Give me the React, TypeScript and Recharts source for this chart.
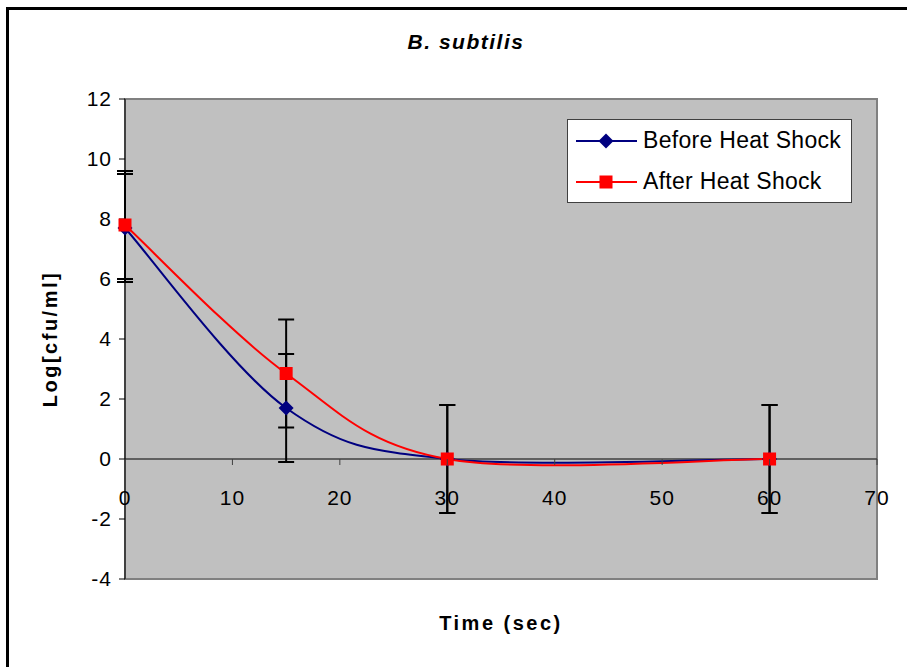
import { LineChart, Line, XAxis, YAxis, CartesianGrid, ErrorBar, Legend, ReferenceLine, ReferenceArea } from 'recharts';

// values
const TIMES = [0, 15, 30, 60];
const BEFORE = [7.7, 1.7, 0, 0];
const AFTER = [7.8, 2.85, 0, 0];
const BEFORE_ERR = [1.8, 1.8, 1.8, 1.8];
const AFTER_ERR = [1.8, 1.8, 1.8, 1.8];
const X_TICKS = [0, 10, 20, 30, 40, 50, 60, 70];
const Y_TICKS = [-4, -2, 0, 2, 4, 6, 8, 10, 12];
const Y_MIN = -4;
const Y_MAX = 12;
const SERIES_ORDER = ['before', 'after'];

const data = TIMES.map((t, i) => ({
  time: t,
  before: BEFORE[i],
  after: AFTER[i],
  beforeErr: BEFORE_ERR[i],
  afterErr: AFTER_ERR[i],
}));

const FONT = '"Liberation Sans", Arial, sans-serif';
const NAVY = '#000080';
const RED = '#FF0000';

// plot geometry (margins + axis sizes)
const PLOT_TOP = 99;
const PLOT_H = 480;
const ZERO_Y = PLOT_TOP + (PLOT_H * (Y_MAX - 0)) / (Y_MAX - Y_MIN);

// Excel-style smoothed line (bezier, 1/6 of neighbour spread)
const excelCurve = (context: any) => {
  let pts: [number, number][] = [];
  return {
    areaStart() {},
    areaEnd() {},
    lineStart() { pts = []; },
    point(x: number, y: number) { pts.push([+x, +y]); },
    lineEnd() {
      if (!pts.length) return;
      context.moveTo(pts[0][0], pts[0][1]);
      for (let i = 0; i < pts.length - 1; i++) {
        const p0 = pts[Math.max(i - 1, 0)];
        const p1 = pts[i];
        const p2 = pts[i + 1];
        const p3 = pts[Math.min(i + 2, pts.length - 1)];
        context.bezierCurveTo(
          p1[0] + (p2[0] - p0[0]) / 6, p1[1] + (p2[1] - p0[1]) / 6,
          p2[0] - (p3[0] - p1[0]) / 6, p2[1] - (p3[1] - p1[1]) / 6,
          p2[0], p2[1],
        );
      }
    },
  };
};

const diamondPath = (cx: number, cy: number, r: number) => `M${cx},${cy - r}L${cx + r},${cy}L${cx},${cy + r}L${cx - r},${cy}Z`;

const DiamondDot = (props: any) => (
  <path key={`bd-${props.index}`} d={diamondPath(props.cx, props.cy, 7.5)} fill={NAVY} />
);

const SquareDot = (props: any) => (
  <rect key={`ad-${props.index}`} x={props.cx - 6.5} y={props.cy - 6.5} width={13} height={13} fill={RED} />
);

const XTick = (props: any) => {
  const { x, payload } = props;
  return (
    <g>
      <line x1={x} x2={x} y1={ZERO_Y} y2={ZERO_Y + 6} stroke="#404040" />
      <text x={x} y={ZERO_Y + 38} textAnchor="middle" dominantBaseline="central" fontSize={21} fontFamily={FONT} fill="#000" letterSpacing={1}>
        {payload.value}
      </text>
    </g>
  );
};

const LegendBox = (props: any) => {
  const items = [...(props.payload || [])].sort(
    (a: any, b: any) => SERIES_ORDER.indexOf(a.dataKey) - SERIES_ORDER.indexOf(b.dataKey),
  );
  return (
    <div style={{ width: 283, height: 82, background: '#fff', border: '1px solid #404040', fontFamily: FONT, fontSize: 23, letterSpacing: 0.3, color: '#000' }}>
      {items.map((entry: any) => {
        const isBefore = entry.dataKey === 'before';
        const color = isBefore ? NAVY : RED;
        return (
          <div key={entry.value} style={{ display: 'flex', alignItems: 'center', height: 41 }}>
            <svg width={75} height={20} style={{ flex: 'none' }}>
              <line x1={8} x2={69} y1={10} y2={10} stroke={color} strokeWidth={2} />
              {isBefore
                ? <path d={diamondPath(38, 10, 7.5)} fill={NAVY} />
                : <rect x={31.5} y={3.5} width={13} height={13} fill={RED} />}
            </svg>
            <span>{entry.value}</span>
          </div>
        );
      })}
    </div>
  );
};

export default function App() {
  return (
    <div style={{ position: 'absolute', left: 0, top: 0, width: 907, height: 667, overflow: 'hidden', background: '#fff', fontFamily: FONT }}>
      {/* outer frame */}
      <div style={{ position: 'absolute', left: 6, top: 7, width: 1000, height: 1000, borderTop: '3px solid #000', borderLeft: '3px solid #000' }} />

      <div style={{ position: 'absolute', left: 366, top: 29, width: 200, lineHeight: '26px', textAlign: 'center', fontSize: 21, fontWeight: 'bold', fontStyle: 'italic', letterSpacing: 1.5 }}>
        B. subtilis
      </div>

      <LineChart width={907} height={667} data={data} margin={{ top: 99, right: 30, bottom: 58, left: 65 }} style={{ position: 'absolute', left: 0, top: 0 }}>
        <CartesianGrid horizontal={false} vertical={false} fill="#C0C0C0" />
        <ReferenceArea x1={0} x2={70} y1={Y_MIN} y2={Y_MAX} fill="none" stroke="#808080" strokeWidth={2} />
        <XAxis dataKey="time" type="number" domain={[0, 70]} ticks={X_TICKS} axisLine={false} tickLine={false} tick={<XTick />} height={30} interval={0} />
        <YAxis type="number" domain={[Y_MIN, Y_MAX]} ticks={Y_TICKS} width={60} interval={0}
          axisLine={{ stroke: '#000', strokeWidth: 1 }} tickLine={{ stroke: '#000' }} tickSize={6} tickMargin={7}
          tick={{ fontSize: 21, fill: '#000', fontFamily: FONT, letterSpacing: 1 }} />
        <ReferenceLine y={0} stroke="#404040" strokeWidth={1.5} />
        <Line dataKey="before" name="Before Heat Shock" type={excelCurve as any} stroke={NAVY} strokeWidth={2} dot={DiamondDot} activeDot={false} isAnimationActive={false}>
          <ErrorBar dataKey="beforeErr" direction="y" width={8} stroke="#000" strokeWidth={2} />
        </Line>
        <Line dataKey="after" name="After Heat Shock" type={excelCurve as any} stroke={RED} strokeWidth={2} dot={SquareDot} activeDot={false} isAnimationActive={false}>
          <ErrorBar dataKey="afterErr" direction="y" width={8} stroke="#000" strokeWidth={2} />
        </Line>
        <Legend layout="vertical" align="center" verticalAlign="middle" content={<LegendBox />}
          wrapperStyle={{ position: 'absolute', left: 567, top: 119, width: 285, height: 84 }} />
      </LineChart>

      <div style={{ position: 'absolute', left: -50, top: 327, width: 200, lineHeight: '24px', textAlign: 'center', fontSize: 20, fontWeight: 'bold', letterSpacing: 2.5, transform: 'rotate(-90deg)' }}>
        Log[cfu/ml]
      </div>
      <div style={{ position: 'absolute', left: 401, top: 611, width: 200, lineHeight: '24px', textAlign: 'center', fontSize: 20, fontWeight: 'bold', letterSpacing: 2.5 }}>
        Time (sec)
      </div>
    </div>
  );
}
